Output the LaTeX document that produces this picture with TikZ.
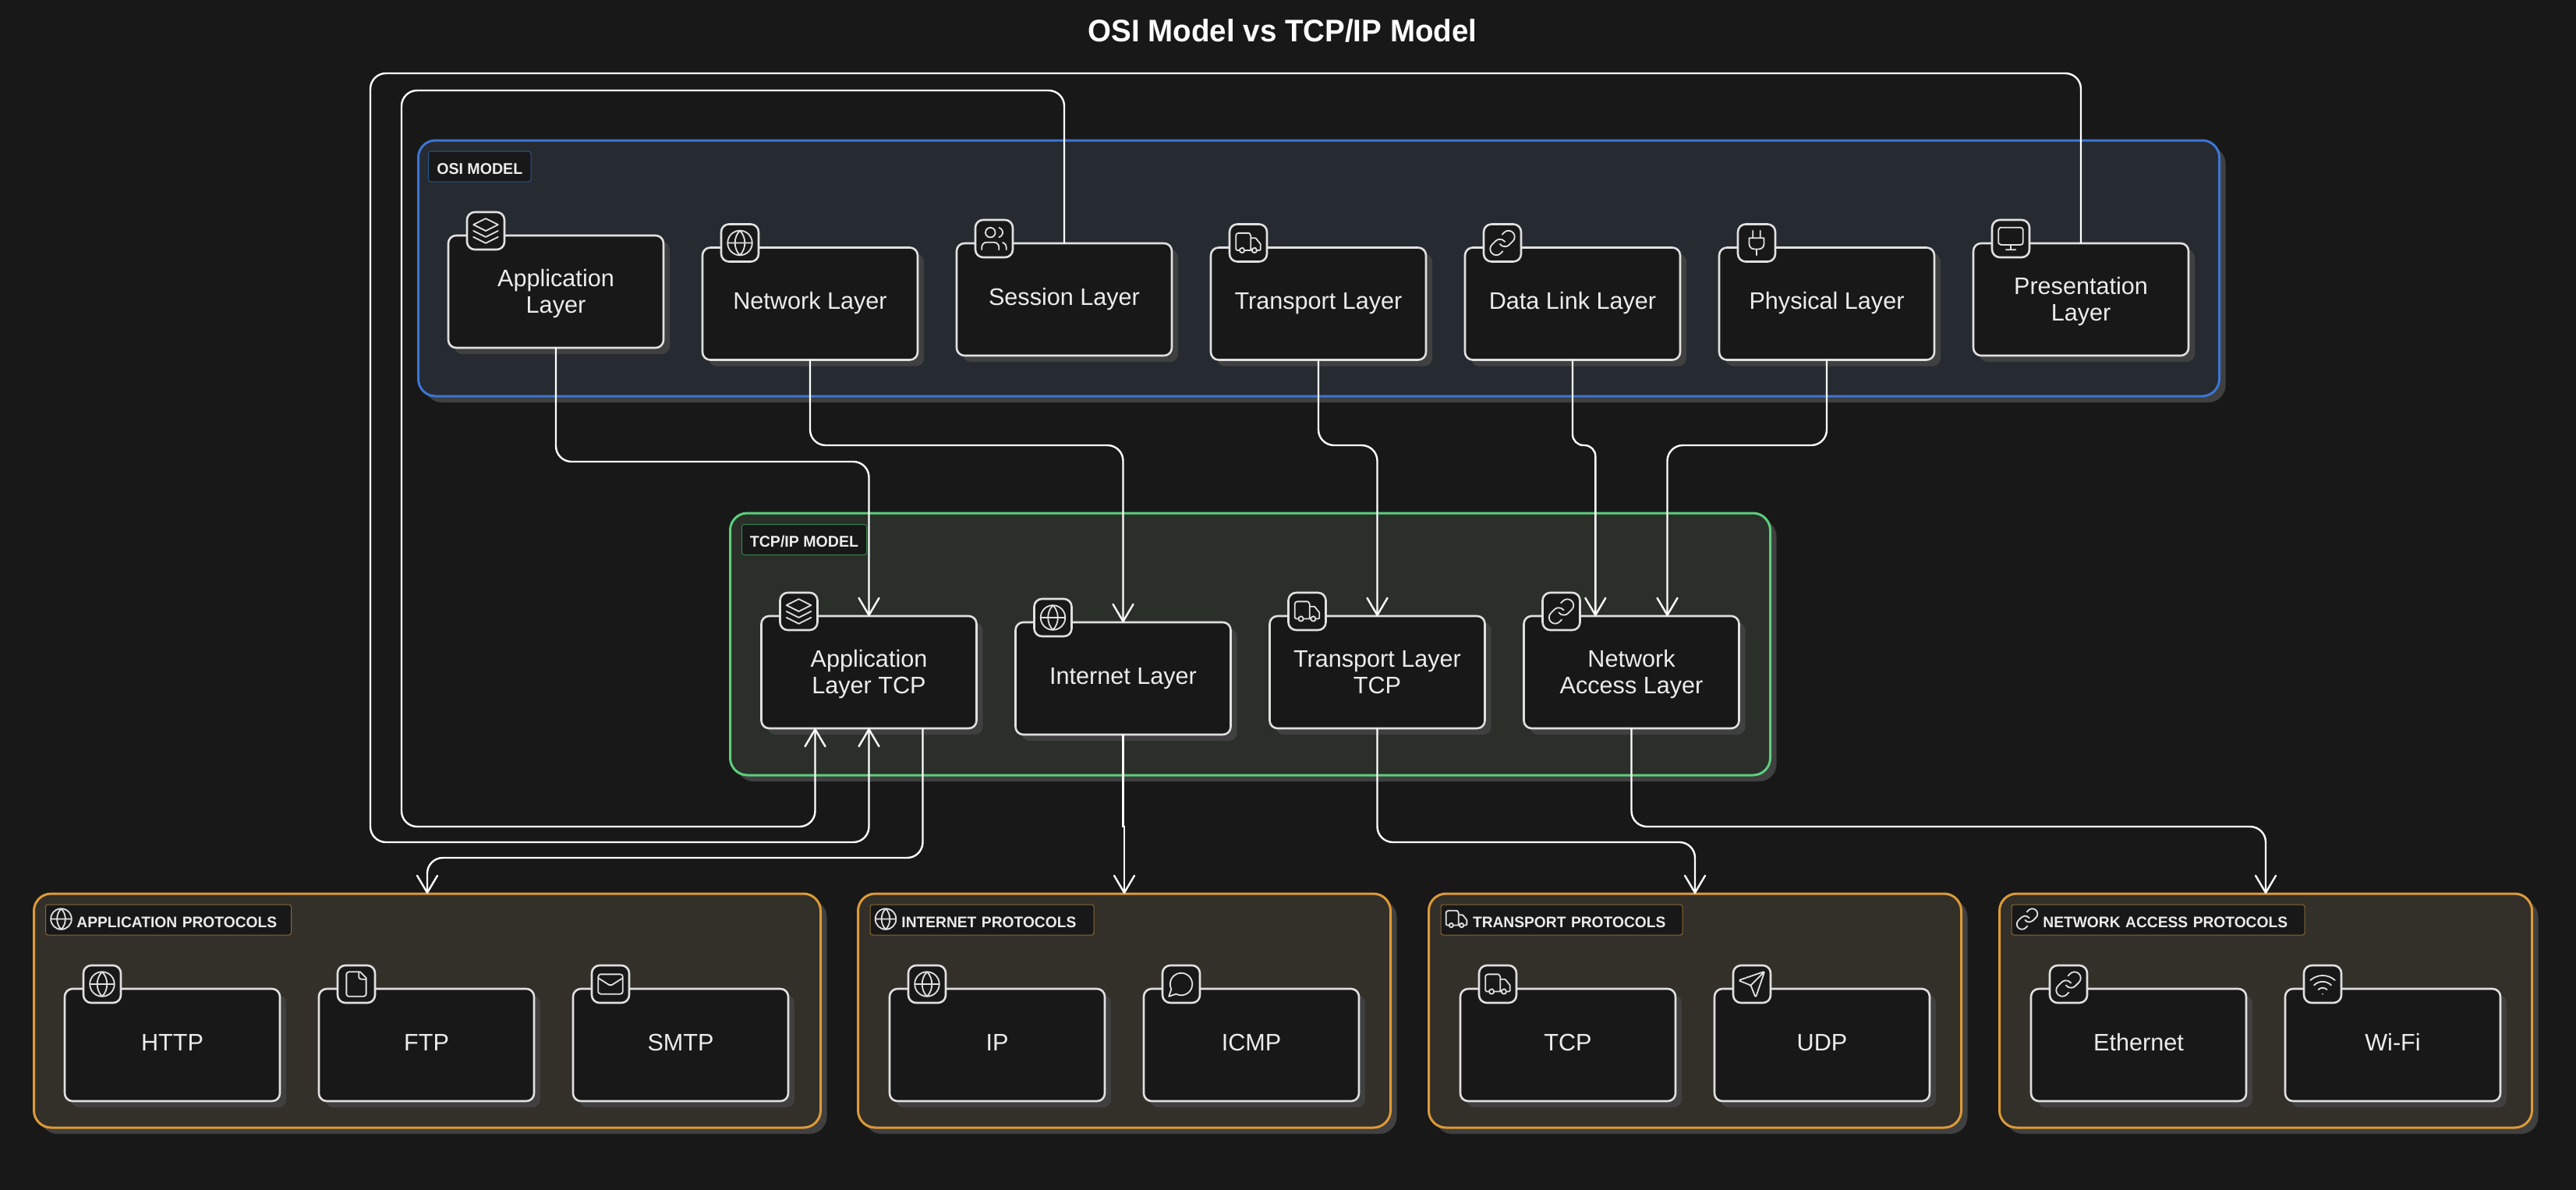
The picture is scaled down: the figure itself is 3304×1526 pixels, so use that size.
\documentclass[tikz,border=0pt]{standalone}
\usepackage{fontspec}
\setmainfont{Liberation Sans}
\newfontfamily\condf[FakeStretch=0.963]{Liberation Sans}
\newfontfamily\labf[FakeStretch=0.98]{Liberation Sans}
\usetikzlibrary{arrows.meta,shadows,svg.path,calc}
\definecolor{bgc}{HTML}{181818}
\definecolor{shc}{HTML}{404040}
\definecolor{fgc}{HTML}{E0E0E0}
\definecolor{txc}{HTML}{ECECEC}
\definecolor{osifill}{HTML}{262B32}
\definecolor{osiline}{HTML}{3A76D6}
\definecolor{osilab}{HTML}{2A568F}
\definecolor{tcpfill}{HTML}{2A3029}
\definecolor{tcpline}{HTML}{5CCF7C}
\definecolor{tcplab}{HTML}{3B8050}
\definecolor{prfill}{HTML}{332F29}
\definecolor{prline}{HTML}{DD9A38}
\definecolor{prlab}{HTML}{8A6A30}
\tikzset{
  x=0.5pt,y=-0.5pt,
  shad/.style={copy shadow={shadow xshift=4pt,shadow yshift=-4pt,fill=shc,draw=none}},
  layerbox/.style={shad,draw=fgc,line width=1.3pt,fill=bgc,rounded corners=5pt,minimum width=138pt,minimum height=72pt,inner sep=0pt,outer sep=0pt,text=txc,font=\fontsize{15.3pt}{17pt}\selectfont,text height=11pt,text depth=4pt},
  twoline/.style={text height=4pt,text depth=11pt},
  badge/.style={draw=fgc,line width=1.3pt,fill=bgc,rounded corners=5pt,minimum size=24pt,inner sep=0pt,outer sep=0pt},
  cluster/.style={shad,line width=1.5pt,rounded corners=11pt,inner sep=0pt,outer sep=0pt},
  osibox/.style={cluster,draw=osiline,fill=osifill,minimum width=1155pt,minimum height=164pt},
  tcpbox/.style={cluster,draw=tcpline,fill=tcpfill,minimum width=667pt,minimum height=168pt},
  protobox/.style={cluster,draw=prline,fill=prfill,minimum height=150pt},
  clabel/.style={anchor=north west,fill=bgc,line width=0.5pt,rounded corners=1.5pt,minimum height=19.5pt,inner sep=0pt,outer sep=0pt,text=txc,font=\labf\bfseries\fontsize{10pt}{12pt}\selectfont,text height=10pt,text depth=0.2pt},
  plabel/.style={clabel,draw=prlab,text width=#1,align=left,font=\labf\bfseries\fontsize{9.8pt}{12pt}\selectfont},
  edge/.style={draw=white,line width=1.2pt,rounded corners=10pt,-{Straight Barb[length=11pt,width=13pt,round]}},
  icon/.style={draw=fgc,line width=0.9pt,line cap=round,line join=round},
  titlenode/.style={text=white,font=\condf\bfseries\fontsize{20pt}{24pt}\selectfont,inner sep=0pt},
}
\newcommand\twol[2]{\makebox[0pt][c]{#1}\makebox[0pt][c]{\raisebox{-17pt}{#2}}}
\newcommand\lucide[3]{\begin{scope}[shift={(#1)},xscale=#2,yscale=-#2,shift={(-12pt,-12pt)}]#3\end{scope}}
\newcommand\icglobe{\draw[icon] svg {M 22 12 a 10 10 0 0 0 -10 -10 a 10 10 0 0 0 -10 10 a 10 10 0 0 0 10 10 a 10 10 0 0 0 10 -10 Z M 12 2 C 6.67 7.5 6.67 16.5 12 22 C 17.33 16.5 17.33 7.5 12 2 M 2 12 L 22 12};}
\newcommand\iclayers{\draw[icon] svg {M 12 2 L 2 7 L 12 12 L 22 7 Z M 2 12 L 12 17 L 22 12 M 2 17 L 12 22 L 22 17};}
\newcommand\icusers{\draw[icon] svg {M 13 7 a 4 4 0 0 0 -4 -4 a 4 4 0 0 0 -4 4 a 4 4 0 0 0 4 4 a 4 4 0 0 0 4 -4 Z M 16 21 L 16 19 a 4 4 0 0 0 -4 -4 L 6 15 a 4 4 0 0 0 -4 4 L 2 21 M 16 3.13 a 4 4 0 0 1 0 7.75 M 22 21 L 22 19 a 4 4 0 0 0 -3 -3.87};}
\newcommand\ictruck{\draw[icon] svg {M 14 18 L 14 6 a 2 2 0 0 0 -2 -2 L 4 4 a 2 2 0 0 0 -2 2 L 2 17 a 1 1 0 0 0 1 1 L 5 18 M 15 18 L 9 18 M 19 18 L 21 18 a 1 1 0 0 0 1 -1 L 22 13.35 a 1 1 0 0 0 -0.22 -0.624 L 18.3 8.376 A 1 1 0 0 0 17.52 8 L 14 8 M 19 18 a 2 2 0 0 0 -2 -2 a 2 2 0 0 0 -2 2 a 2 2 0 0 0 2 2 a 2 2 0 0 0 2 -2 Z M 9 18 a 2 2 0 0 0 -2 -2 a 2 2 0 0 0 -2 2 a 2 2 0 0 0 2 2 a 2 2 0 0 0 2 -2 Z};}
\newcommand\iclink{\draw[icon] svg {M 10 13 a 5 5 0 0 0 7.54 0.54 l 3 -3 a 5 5 0 0 0 -7.07 -7.07 l -1.72 1.71 M 14 11 a 5 5 0 0 0 -7.54 -0.54 l -3 3 a 5 5 0 0 0 7.07 7.07 l 1.71 -1.71};}
\newcommand\icplug{\draw[icon] svg {M 12 22 L 12 17 M 9 8 L 9 2 M 15 8 L 15 2 M 18 8 L 18 13 a 4 4 0 0 1 -4 4 L 10 17 a 4 4 0 0 1 -4 -4 L 6 8 Z};}
\newcommand\icmonitor{\draw[icon] svg {M 4 3 L 20 3 a 2 2 0 0 1 2 2 L 22 15 a 2 2 0 0 1 -2 2 L 4 17 a 2 2 0 0 1 -2 -2 L 2 5 a 2 2 0 0 1 2 -2 Z M 8 21 L 16 21 M 12 17 L 12 21};}
\newcommand\icfile{\draw[icon] svg {M 15 2 L 6 2 a 2 2 0 0 0 -2 2 L 4 20 a 2 2 0 0 0 2 2 L 18 22 a 2 2 0 0 0 2 -2 L 20 7 Z M 14 2 L 14 6 a 2 2 0 0 0 2 2 L 20 8};}
\newcommand\icmail{\draw[icon] svg {M 4 4 L 20 4 a 2 2 0 0 1 2 2 L 22 18 a 2 2 0 0 1 -2 2 L 4 20 a 2 2 0 0 1 -2 -2 L 2 6 a 2 2 0 0 1 2 -2 Z M 22 7 L 13.03 12.7 a 1.94 1.94 0 0 1 -2.06 0 L 2 7};}
\newcommand\icchat{\draw[icon] svg {M 7.9 20 A 9 9 0 1 0 4 16.1 L 2 22 Z};}
\newcommand\icsend{\draw[icon] svg {M 14.536 21.686 a 0.5 0.5 0 0 0 0.937 -0.024 l 6.5 -19 a 0.496 0.496 0 0 0 -0.635 -0.635 l -19 6.5 a 0.5 0.5 0 0 0 -0.024 0.937 l 7.93 3.18 a 2 2 0 0 1 1.112 1.11 Z M 21.854 2.147 L 10.914 13.086};}
\newcommand\icwifi{\draw[icon] svg {M 12 20 L 12.01 20 M 2 8.82 a 15 15 0 0 1 20 0 M 5 12.859 a 10 10 0 0 1 14 0 M 8.5 16.429 a 5 5 0 0 1 7 0};}
% #1 extra style, #2 name, #3 x, #4 y, #5 text
\newcommand\lay[5][]{\node[layerbox,#1] (#2) at (#3,#4) {#5};
  \coordinate (#2badgepos) at ([xshift=24pt,yshift=3pt]#2.north west);}
\newcommand\bad[2]{\node[badge] (#1b) at (#1badgepos) {};\lucide{#1b.center}{0.79}{#2}}
\begin{document}
\begin{tikzpicture}
\useasboundingbox (0,0) rectangle (3304,1526);
\fill[bgc] (0,0) rectangle (3304,1526);
\node[titlenode] (title) at (1645,39) {OSI Model vs TCP/IP Model};
% clusters
\node[osibox] (osi) at (1691.5,344) {};
\node[tcpbox] (tcp) at (1603.5,826) {};
\node[protobox,minimum width=504.5pt] (papp) at (548,1296) {};
\node[protobox,minimum width=341.5pt] (pint) at (1442,1296) {};
\node[protobox,minimum width=341.5pt] (ptra) at (2174,1296) {};
\node[protobox,minimum width=341.5pt] (pnet) at (2906,1296) {};
% cluster labels
\node[clabel,draw=osilab,minimum width=65.75pt] (losi) at (549.5,194) {OSI MODEL};
\node[clabel,draw=tcplab,minimum width=80pt] (ltcp) at (951.5,672.5) {TCP/IP MODEL};
\node[plabel=157.5pt] (lpapp) at (58.5,1160) {\hspace*{20pt}APPLICATION PROTOCOLS};
\node[plabel=143.5pt] (lpint) at (1116,1160) {\hspace*{20.2pt}INTERNET PROTOCOLS};
\node[plabel=155pt] (lptra) at (1848,1160) {\hspace*{20.5pt}TRANSPORT PROTOCOLS};
\node[plabel=188pt] (lpnet) at (2580,1160) {\hspace*{20.2pt}NETWORK ACCESS PROTOCOLS};
\lucide{$(lpapp.west)+(10pt,0.5pt)$}{0.667}{\icglobe}
\lucide{$(lpint.west)+(10pt,0.5pt)$}{0.667}{\icglobe}
\lucide{$(lptra.west)+(10pt,0.5pt)$}{0.667}{\ictruck}
\lucide{$(lpnet.west)+(10pt,0.5pt)$}{0.667}{\iclink}
% OSI layers
\lay[twoline]{oapp}{713}{374}{\twol{Application}{Layer}}
\lay{onet}{1039}{389.5}{Network Layer}
\lay{oses}{1365}{384}{Session Layer}
\lay{otra}{1691}{389.5}{Transport Layer}
\lay{odat}{2017}{389.5}{Data Link Layer}
\lay{ophy}{2343}{389.5}{Physical Layer}
\lay[twoline]{opre}{2669}{384}{\twol{Presentation}{Layer}}
% TCP/IP layers
\lay[twoline]{tapp}{1114.5}{862}{\twol{Application}{Layer TCP}}
\lay{tint}{1440.5}{870}{Internet Layer}
\lay[twoline]{ttra}{1766.5}{862}{\twol{Transport Layer}{TCP}}
\lay[twoline]{tnet}{2092.5}{862}{\twol{Network}{Access Layer}}
% protocols
\lay{http}{221}{1340}{HTTP}
\lay{ftp}{547}{1340}{FTP}
\lay{smtp}{873}{1340}{SMTP}
\lay{ip}{1279}{1340}{IP}
\lay{icmp}{1605}{1340}{ICMP}
\lay{tcpn}{2011}{1340}{TCP}
\lay{udp}{2337}{1340}{UDP}
\lay{eth}{2743}{1340}{Ethernet}
\lay{wifi}{3069}{1340}{Wi-Fi}
% badges
\bad{oapp}{\iclayers}\bad{onet}{\icglobe}\bad{oses}{\icusers}\bad{otra}{\ictruck}\bad{odat}{\iclink}\bad{ophy}{\icplug}\bad{opre}{\icmonitor}
\bad{tapp}{\iclayers}\bad{tint}{\icglobe}\bad{ttra}{\ictruck}\bad{tnet}{\iclink}
\bad{http}{\icglobe}\bad{ftp}{\icfile}\bad{smtp}{\icmail}\bad{ip}{\icglobe}\bad{icmp}{\icchat}\bad{tcpn}{\ictruck}\bad{udp}{\icsend}\bad{eth}{\iclink}\bad{wifi}{\icwifi}
% connectors
\draw[edge] (oapp.south) -- ++(0,146) -| (tapp.north);
\draw[edge] (onet.south) -- ++(0,109.5) -| (tint.north);
\draw[edge] (otra.south) -- ++(0,109.5) -| (ttra.north);
\draw[edge,rounded corners=7pt] (odat.south) -- ++(0,109.5) -| ([xshift=-23.1pt]tnet.north);
\draw[edge] (ophy.south) -- ++(0,109.5) -| ([xshift=23pt]tnet.north);
\draw[edge] (oses.north) -- ++(0,-196) -- ++(-850,0) -- ++(0,944) -| ([xshift=-34.5pt]tapp.south);
\draw[edge] (opre.north) -- ++(0,-218) -- ++(-2194,0) -- ++(0,986) -| (tapp.south);
\draw[edge] ([xshift=34.5pt]tapp.south) -- ++(0,166) -| (papp.north);
\draw[edge,sharp corners] (tint.south) -- ++(0,118) -| (pint.north);
\draw[edge] (ttra.south) -- ++(0,146) -| (ptra.north);
\draw[edge] (tnet.south) -- ++(0,126) -| (pnet.north);
\end{tikzpicture}
\end{document}
